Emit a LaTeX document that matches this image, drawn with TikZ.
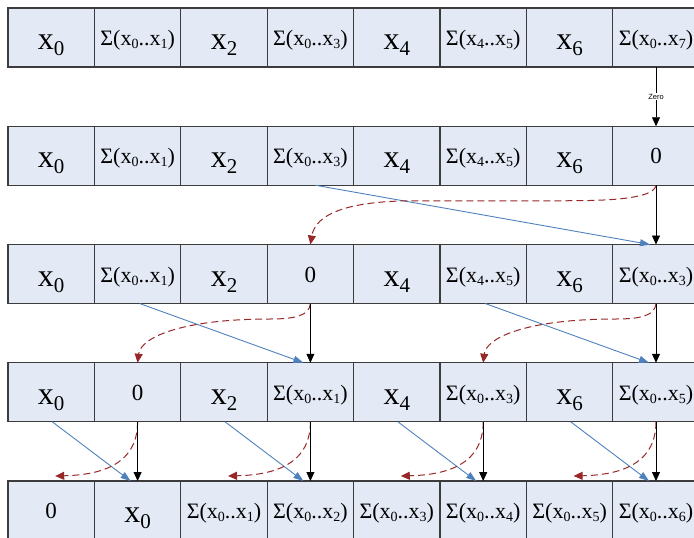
\documentclass[tikz,border=0pt]{standalone}
\usepackage{fontspec}
\setmainfont{Liberation Serif}
\newfontfamily\lblfont{Liberation Sans}
\usetikzlibrary{arrows.meta}
\definecolor{cellfill}{RGB}{228,234,245}
\definecolor{cellline}{RGB}{60,60,60}
\definecolor{sumblue}{RGB}{79,129,189}
\definecolor{swapred}{RGB}{150,40,40}
% cell texts
\newcommand{\xv}[1]{{\fontsize{32}{34}\selectfont x\raisebox{-6pt}{\fontsize{21}{23}\selectfont #1}}}
\newcommand{\sv}[2]{{\fontsize{22}{24}\selectfont Σ(x\raisebox{-3pt}{\fontsize{14}{16}\selectfont #1}..x\raisebox{-3pt}{\fontsize{14}{16}\selectfont #2})}}
\newcommand{\zv}{{\fontsize{23}{25}\selectfont 0}}
\tikzset{
  cell/.style={draw=cellline,fill=cellfill,line width=1.2pt,minimum width=86.4pt,
    minimum height=59pt,inner sep=0pt,outer sep=0pt,text depth=0pt},
  xcell/.style={cell,text height=24pt},
  scell/.style={cell,text height=16pt},
  zcell/.style={cell,text height=16pt},
  down/.style={-{Triangle[length=9pt,width=8pt]},line width=0.8pt,black},
  sumline/.style={-{Triangle[length=10pt,width=7pt]},line width=0.9pt,sumblue},
  swapline/.style={-{Triangle[length=9pt,width=8pt]},line width=1pt,swapred,
    dash pattern=on 7pt off 4pt},
  zerolbl/.style={fill=white,inner sep=1pt,font=\lblfont\fontsize{7.5}{8}\selectfont}
}
\begin{document}
\begin{tikzpicture}
[x=1pt,y=-1pt]
\useasboundingbox (0,0) rectangle (694,538);
% row a
\node[xcell] (a1) at (51.2,37.5) {\xv{0}};
\node[scell] (a2) at (137.6,37.5) {\sv{0}{1}};
\node[xcell] (a3) at (224,37.5) {\xv{2}};
\node[scell] (a4) at (310.4,37.5) {\sv{0}{3}};
\node[xcell] (a5) at (396.8,37.5) {\xv{4}};
\node[scell] (a6) at (483.2,37.5) {\sv{4}{5}};
\node[xcell] (a7) at (569.6,37.5) {\xv{6}};
\node[scell] (a8) at (656,37.5) {\sv{0}{7}};
% row b
\node[xcell] (b1) at (51.2,155.75) {\xv{0}};
\node[scell] (b2) at (137.6,155.75) {\sv{0}{1}};
\node[xcell] (b3) at (224,155.75) {\xv{2}};
\node[scell] (b4) at (310.4,155.75) {\sv{0}{3}};
\node[xcell] (b5) at (396.8,155.75) {\xv{4}};
\node[scell] (b6) at (483.2,155.75) {\sv{4}{5}};
\node[xcell] (b7) at (569.6,155.75) {\xv{6}};
\node[zcell] (b8) at (656,155.75) {\zv};
% row c
\node[xcell] (c1) at (51.2,274) {\xv{0}};
\node[scell] (c2) at (137.6,274) {\sv{0}{1}};
\node[xcell] (c3) at (224,274) {\xv{2}};
\node[zcell] (c4) at (310.4,274) {\zv};
\node[xcell] (c5) at (396.8,274) {\xv{4}};
\node[scell] (c6) at (483.2,274) {\sv{4}{5}};
\node[xcell] (c7) at (569.6,274) {\xv{6}};
\node[scell] (c8) at (656,274) {\sv{0}{3}};
% row d
\node[xcell] (d1) at (51.2,392.25) {\xv{0}};
\node[zcell] (d2) at (137.6,392.25) {\zv};
\node[xcell] (d3) at (224,392.25) {\xv{2}};
\node[scell] (d4) at (310.4,392.25) {\sv{0}{1}};
\node[xcell] (d5) at (396.8,392.25) {\xv{4}};
\node[scell] (d6) at (483.2,392.25) {\sv{0}{3}};
\node[xcell] (d7) at (569.6,392.25) {\xv{6}};
\node[scell] (d8) at (656,392.25) {\sv{0}{5}};
% row e
\node[zcell] (e1) at (51.2,510.5) {\zv};
\node[xcell] (e2) at (137.6,510.5) {\xv{0}};
\node[scell] (e3) at (224,510.5) {\sv{0}{1}};
\node[scell] (e4) at (310.4,510.5) {\sv{0}{2}};
\node[scell] (e5) at (396.8,510.5) {\sv{0}{3}};
\node[scell] (e6) at (483.2,510.5) {\sv{0}{4}};
\node[scell] (e7) at (569.6,510.5) {\sv{0}{5}};
\node[scell] (e8) at (656,510.5) {\sv{0}{6}};
% a -> b
\draw[down] (a8.south) -- node[zerolbl]{Zero} (b8.north);
% b -> c
\draw[sumline] ([xshift=5pt]b4.south) -- ([xshift=-6pt]c8.north);
\draw[swapline] (b8.south) .. controls +(-2,14) and +(40,0) .. ++(-90,15.5)
  -- ++(-150,0) .. controls +(-70,0) and +(5,-30) .. (c4.north);
\draw[down] (b8.south) -- (c8.north);
% c -> d
\draw[sumline] ([xshift=2pt]c2.south) -- ([xshift=-7pt]d4.north);
\draw[sumline] ([xshift=2pt]c6.south) -- ([xshift=-7pt]d8.north);
\draw[swapline] (c4.south) .. controls +(-1,12) and +(25,0) .. ++(-40,15.5)
  .. controls +(-90,0) and +(3,-25) .. (d2.north);
\draw[swapline] (c8.south) .. controls +(-1,12) and +(25,0) .. ++(-40,15.5)
  .. controls +(-90,0) and +(3,-25) .. (d6.north);
\draw[down] (c4.south) -- (d4.north);
\draw[down] (c8.south) -- (d8.north);
% d -> e
\draw[sumline] ([xshift=1pt]d1.south) -- ([xshift=-7pt]e2.north);
\draw[sumline] ([xshift=1pt]d3.south) -- ([xshift=-7pt]e4.north);
\draw[sumline] ([xshift=1pt]d5.south) -- ([xshift=-7pt]e6.north);
\draw[sumline] ([xshift=1pt]d7.south) -- ([xshift=-7pt]e8.north);
\draw[swapline] (d2.south) .. controls +(0,46) and +(40,-1) .. ([xshift=4pt,yshift=5pt]e1.north);
\draw[swapline] (d4.south) .. controls +(0,46) and +(40,-1) .. ([xshift=4pt,yshift=5pt]e3.north);
\draw[swapline] (d6.south) .. controls +(0,46) and +(40,-1) .. ([xshift=4pt,yshift=5pt]e5.north);
\draw[swapline] (d8.south) .. controls +(0,46) and +(40,-1) .. ([xshift=4pt,yshift=5pt]e7.north);
\draw[down] (d2.south) -- (e2.north);
\draw[down] (d4.south) -- (e4.north);
\draw[down] (d6.south) -- (e6.north);
\draw[down] (d8.south) -- (e8.north);
\end{tikzpicture}
\end{document}
